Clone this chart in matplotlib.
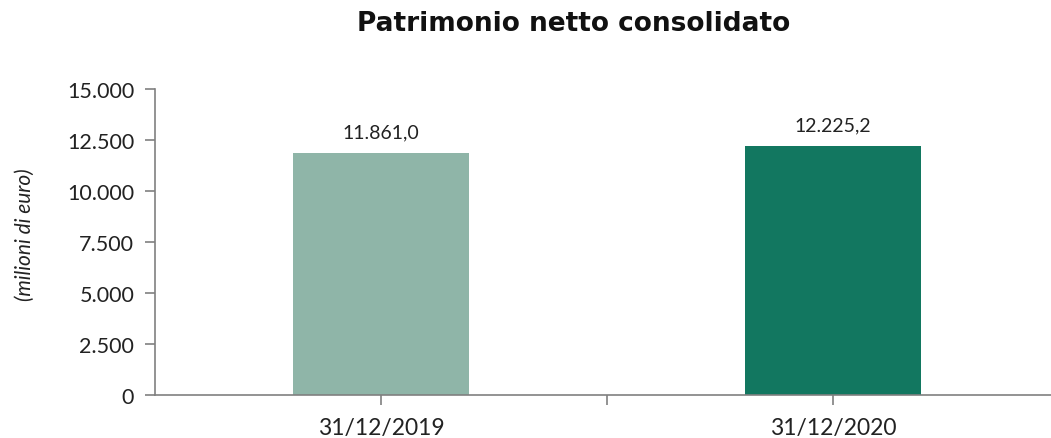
import matplotlib
matplotlib.use("Agg")
import matplotlib.pyplot as plt
from matplotlib.ticker import FuncFormatter

# Dati
categorie = ["31/12/2019", "31/12/2020"]
valori = [11861.0, 12225.2]
colori = ["#8fb5a8", "#127760"]
yticks = [0, 2500, 5000, 7500, 10000, 12500, 15000]


def fmt_it(v, decimali=0):
    s = f"{v:,.{decimali}f}"
    return s.replace(",", "X").replace(".", ",").replace("X", ".")


plt.rcParams["font.family"] = ["Lato", "DejaVu Sans"]

fig = plt.figure(figsize=(10.51, 4.39), dpi=100)
ax = fig.add_axes([155 / 1051, 43 / 439, 904 / 1051, 306 / 439])

x = list(range(len(categorie)))
bars = ax.bar(x, valori, width=0.39, color=colori, zorder=2)

for b, v in zip(bars, valori):
    ax.text(b.get_x() + b.get_width() / 2, v + 600, fmt_it(v, 1),
            ha="center", va="bottom", fontsize=14, color="#222222")

ax.set_xlim(-0.5, 1.5)
ax.set_ylim(0, 15000)
ax.set_yticks(yticks)
ax.yaxis.set_major_formatter(FuncFormatter(lambda v, p: fmt_it(v)))
ax.set_xticks([0, 0.5, 1])
ax.set_xticklabels([categorie[0], "", categorie[1]])

for s in ["top", "right"]:
    ax.spines[s].set_visible(False)
for s in ["left", "bottom"]:
    ax.spines[s].set_color("#808080")
    ax.spines[s].set_linewidth(1.2)

ax.tick_params(axis="both", colors="#808080", length=7, width=1.2,
               labelcolor="#222222")
ax.tick_params(axis="x", pad=9, labelsize=16.5)
ax.tick_params(axis="y", pad=8, labelsize=15.5)

fig.text(25 / 1051, 1 - 235 / 439, "(milioni di euro)", rotation=90,
         ha="center", va="center", fontsize=15, style="italic", color="#222222")

fig.text(574 / 1051, 1 - 24 / 439, "Patrimonio netto consolidato",
         ha="center", va="center", fontsize=19, fontweight="bold",
         family=["DejaVu Sans"], color="#111111")

plt.savefig("out.png", dpi=100)
